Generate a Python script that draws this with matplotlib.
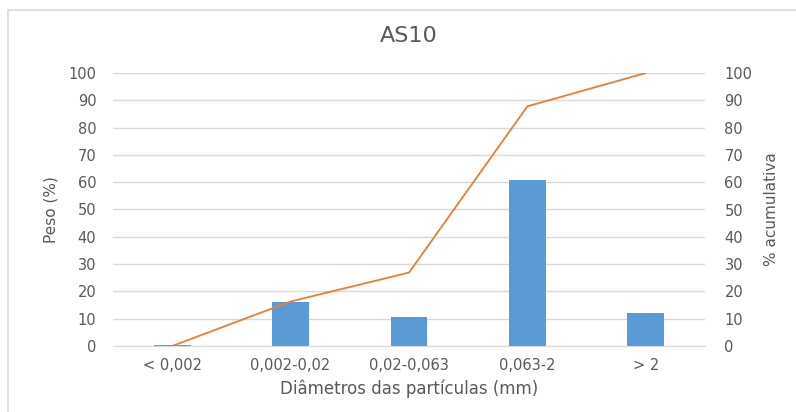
import matplotlib
matplotlib.use("Agg")
import matplotlib.pyplot as plt
from matplotlib.patches import Rectangle

categories = ["< 0,002", "0,002-0,02", "0,02-0,063", "0,063-2", "> 2"]
peso = [0.3, 16.0, 10.6, 60.9, 12.2]
acumulada = [0.0, 16.3, 26.9, 87.8, 100.0]
yticks = [0, 10, 20, 30, 40, 50, 60, 70, 80, 90, 100]

plt.rcParams['font.family'] = ['DejaVu Sans']
text_color = "#595959"
grid_color = "#d9d9d9"

fig = plt.figure(figsize=(7.96, 4.12), dpi=100)
fig.patch.set_facecolor("white")

# chart border
fig.patches.append(Rectangle((8 / 796, -0.01), 1.0, 1 - 10 / 412 + 0.01,
                             transform=fig.transFigure, fill=False,
                             edgecolor="#d9d9d9", linewidth=1.2))

ax = fig.add_axes([113 / 796, 1 - 346 / 412, 592 / 796, 273 / 412])
x = list(range(len(categories)))
ax.bar(x, peso, width=0.31, color="#5B9BD5", zorder=2)
ax.set_xlim(-0.5, len(categories) - 0.5)
ax.set_ylim(0, 100)
ax.set_yticks(yticks)
ax.set_xticks(x)
ax.set_xticklabels(categories)
ax.grid(axis="y", color=grid_color, linewidth=1, zorder=0)
ax.set_axisbelow(True)
for s in ["top", "left", "right"]:
    ax.spines[s].set_visible(False)
ax.spines["bottom"].set_color(grid_color)
ax.tick_params(length=0, labelsize=10.5, colors=text_color)
ax.tick_params(axis="y", pad=12)
ax.tick_params(axis="x", pad=9)
ax.set_ylabel("Peso (%)", fontsize=11, color=text_color, labelpad=7)
ax.set_xlabel("Diâmetros das partículas (mm)", fontsize=12, color=text_color, labelpad=4)

ax2 = ax.twinx()
ax2.plot(x, acumulada, color="#ED7D31", linewidth=1.3, zorder=3)
ax2.set_ylim(0, 100)
ax2.set_yticks(yticks)
for s in ["top", "left", "right", "bottom"]:
    ax2.spines[s].set_visible(False)
ax2.tick_params(length=0, labelsize=10.5, colors=text_color, pad=14)
ax2.set_ylabel("% acumulativa", fontsize=11, color=text_color, labelpad=8)

fig.text(409 / 796, 1 - 36 / 412, "AS10", ha="center", va="center",
         fontsize=16, color=text_color)

fig.savefig("out.png", dpi=100)
